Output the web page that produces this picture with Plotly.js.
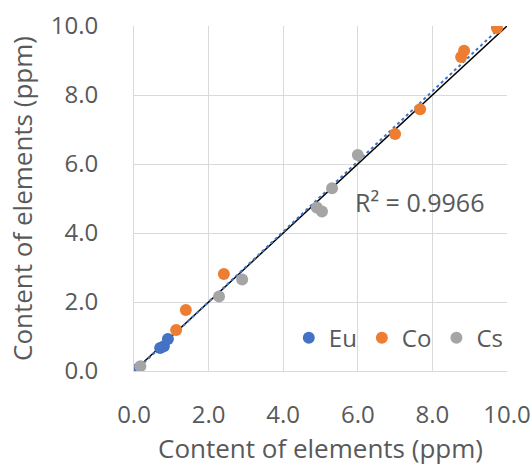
<!DOCTYPE html>
<html><head><meta charset="utf-8">
<script src="https://cdn.plot.ly/plotly-3.0.1.min.js"></script>
<style>html,body{margin:0;padding:0;background:#fff;}#chart{width:532px;height:466px;}</style>
</head><body><div id="chart"></div>
<script>
// Data
const euX = [0.10, 0.70, 0.80, 0.91];
const euY = [0.06, 0.67, 0.72, 0.93];
const coX = [1.13, 1.39, 2.41, 7.00, 7.67, 8.77, 8.85, 9.73];
const coY = [1.19, 1.77, 2.81, 6.87, 7.59, 9.10, 9.28, 9.94];
const csX = [0.17, 2.28, 2.90, 4.90, 5.04, 5.31, 6.00];
const csY = [0.14, 2.16, 2.65, 4.74, 4.62, 5.30, 6.26];
const refX = [0, 10];   // 1:1 reference line
const r2Text = "R² = 0.9966";
const tickVals = [0, 2, 4, 6, 8, 10];

// least-squares fit over all points
const allX = euX.concat(coX, csX), allY = euY.concat(coY, csY);
const n = allX.length;
const mx = allX.reduce((a,b)=>a+b,0)/n, my = allY.reduce((a,b)=>a+b,0)/n;
let sxy=0, sxx=0;
for (let i=0;i<n;i++){ sxy+=(allX[i]-mx)*(allY[i]-my); sxx+=(allX[i]-mx)**2; }
const slope = sxy/sxx, icpt = my - slope*mx;
const fitX = [Math.max(0, -icpt/slope), Math.min(10, (10-icpt)/slope)];
const fitY = fitX.map(x=>slope*x+icpt);

const FONT = "Open Sans, Noto Sans, sans-serif";
const txt = "#595959";
const mk = (c)=>({size:12, color:c});

const traces = [
  {x:refX, y:refX, mode:'lines', line:{color:'#000000', width:1.5}, showlegend:false, hoverinfo:'skip'},
  {x:fitX, y:fitY, mode:'lines', line:{color:'#4472C4', width:2, dash:'dot'}, showlegend:false, hoverinfo:'skip'},
  {x:euX, y:euY, mode:'markers', name:'Eu', marker:mk('#4472C4')},
  {x:coX, y:coY, mode:'markers', name:'Co', marker:mk('#ED7D31')},
  {x:csX, y:csY, mode:'markers', name:'Cs', marker:mk('#A5A5A5')}
];

const axisCommon = {
  range:[0,10], tickvals:tickVals, tickformat:'.1f', showgrid:true, gridcolor:'#D9D9D9', gridwidth:1,
  zeroline:false, showline:true, linecolor:'#D9D9D9', linewidth:1, ticks:'',
  tickfont:{family:FONT, size:24, color:txt}
};

const layout = {
  width:532, height:466,
  margin:{l:134, r:25, t:26, b:95},
  paper_bgcolor:'#fff', plot_bgcolor:'#fff',
  font:{family:FONT, color:txt},
  xaxis:Object.assign({}, axisCommon, {ticklabelstandoff:22,
    title:{text:'Content of elements (ppm)', font:{family:FONT, size:26, color:txt}, standoff:17}}),
  yaxis:Object.assign({}, axisCommon, {ticklabelstandoff:30,
    title:{text:'Content of elements (ppm)', font:{family:FONT, size:26, color:txt}, standoff:10}}),
  legend:{orientation:'h', x:0.415, y:0.03, xanchor:'left', yanchor:'bottom', bgcolor:'rgba(0,0,0,0)',
          font:{family:FONT, size:24, color:txt}, itemwidth:20, tracegroupgap:0},
  annotations:[{x:7.65, y:4.9, xref:'x', yref:'y', text:r2Text, showarrow:false, font:{family:FONT, size:25, color:txt}}]
};

Plotly.newPlot('chart', traces, layout, {staticPlot:true, displayModeBar:false});
</script></body></html>
